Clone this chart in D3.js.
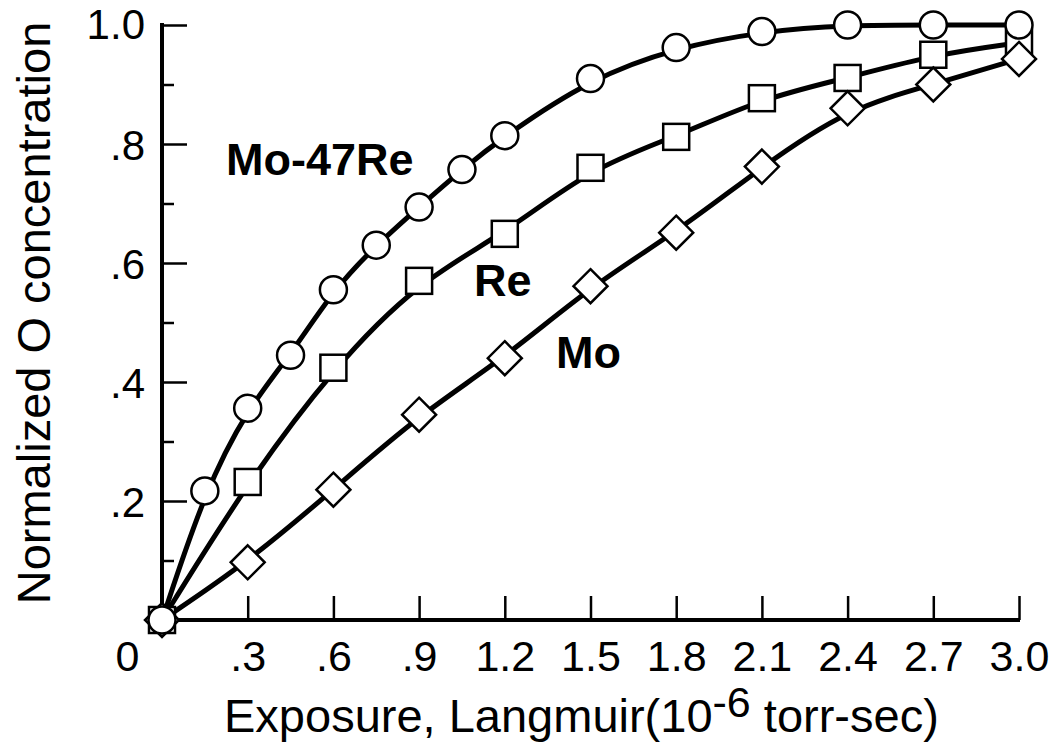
<!DOCTYPE html>
<html>
<head>
<meta charset="utf-8">
<script src="https://cdn.jsdelivr.net/npm/d3@7/dist/d3.min.js"></script>
<style>
  html, body { margin: 0; padding: 0; background: #fff; }
  svg { display: block; }
  text { font-family: "Liberation Sans", Arial, Helvetica, sans-serif; fill: #000; }
</style>
</head>
<body>
<svg id="chart" width="1055" height="746"></svg>
<script>
// ---- data ----
const xMoRe = [0, 0.15, 0.3, 0.45, 0.6, 0.75, 0.9, 1.05, 1.2, 1.5, 1.8, 2.1, 2.4, 2.7, 3.0];
const yMoRe = [0, 0.217, 0.356, 0.445, 0.555, 0.630, 0.694, 0.757, 0.814, 0.910, 0.962, 0.989, 1.0, 1.0, 1.0];
const xRe = [0, 0.3, 0.6, 0.9, 1.2, 1.5, 1.8, 2.1, 2.4, 2.7, 3.0];
const yRe = [0, 0.232, 0.424, 0.570, 0.649, 0.760, 0.812, 0.877, 0.911, 0.950, 0.970];
const xMo = [0, 0.3, 0.6, 0.9, 1.2, 1.5, 1.8, 2.1, 2.4, 2.7, 3.0];
const yMo = [0, 0.097, 0.219, 0.345, 0.440, 0.561, 0.651, 0.762, 0.860, 0.900, 0.943];
const xTicks = [0, 0.3, 0.6, 0.9, 1.2, 1.5, 1.8, 2.1, 2.4, 2.7, 3.0];
const xTickLabels = ["0", ".3", ".6", ".9", "1.2", "1.5", "1.8", "2.1", "2.4", "2.7", "3.0"];
const yMajor = [0.2, 0.4, 0.6, 0.8, 1.0];
const yMajorLabels = [".2", ".4", ".6", ".8", "1.0"];
const yMinor = [0.1, 0.3, 0.5, 0.7, 0.9];
const seriesNames = ["Mo-47Re", "Re", "Mo"];

// ---- layout ----
const svg = d3.select("#chart");
svg.append("rect").attr("width", 1055).attr("height", 746).attr("fill", "#fff");
const x = d3.scaleLinear().domain([0, 3]).range([162, 1019]);
const y = d3.scaleLinear().domain([0, 1]).range([620, 25]);

// axes lines
svg.append("line").attr("x1", x(0)).attr("x2", x(0)).attr("y1", y(0) + 2).attr("y2", y(1) - 2)
  .attr("stroke", "#000").attr("stroke-width", 4);
svg.append("line").attr("x1", x(0) - 2).attr("x2", x(3) + 1).attr("y1", y(0)).attr("y2", y(0))
  .attr("stroke", "#000").attr("stroke-width", 4);

// x ticks (pointing up)
const xAxis = d3.axisBottom(x).tickValues(xTicks).tickSizeInner(-24).tickSizeOuter(0)
  .tickFormat((d, i) => xTickLabels[i]);
const gx = svg.append("g").attr("transform", `translate(0,${y(0)})`).call(xAxis);
gx.select(".domain").remove();
gx.selectAll(".tick line").attr("stroke", "#000").attr("stroke-width", 2.5)
  .filter(d => d === 0).remove();
gx.selectAll(".tick text").attr("font-size", 43).attr("y", 51).attr("dy", 0)
  .attr("font-family", "Liberation Sans, Arial, sans-serif");
gx.selectAll(".tick").filter(d => d === 0).select("text").attr("x", -35);

// y ticks (pointing right)
const yAxis = d3.axisLeft(y).tickValues(yMajor).tickSizeInner(-25).tickSizeOuter(0)
  .tickFormat((d, i) => yMajorLabels[i]);
const gy = svg.append("g").attr("transform", `translate(${x(0)},0)`).call(yAxis);
gy.select(".domain").remove();
gy.selectAll(".tick line").attr("stroke", "#000").attr("stroke-width", 2.5);
gy.selectAll(".tick text").attr("font-size", 42).attr("x", -17).attr("dy", "0.36em")
  .attr("font-family", "Liberation Sans, Arial, sans-serif");
gy.selectAll(".tick").filter(d => d === 1).select("text").attr("dy", 13);

const yAxisMinor = d3.axisLeft(y).tickValues(yMinor).tickSizeInner(-12).tickSizeOuter(0).tickFormat("");
const gym = svg.append("g").attr("transform", `translate(${x(0)},0)`).call(yAxisMinor);
gym.select(".domain").remove();
gym.selectAll(".tick line").attr("stroke", "#000").attr("stroke-width", 2.5);

// curves (smooth fitted curves through the measured points)
const line = d3.line().x(d => x(d[0])).y(d => y(d[1])).curve(d3.curveBasis);
const dMoRe = xMoRe.map((v, i) => [v, yMoRe[i]]);
const dRe = xRe.map((v, i) => [v, yRe[i]]);
const dMo = xMo.map((v, i) => [v, yMo[i]]);
[dMoRe, dRe, dMo].forEach(d => {
  svg.append("path").attr("d", line(d)).attr("fill", "none").attr("stroke", "#000")
    .attr("stroke-width", 5).attr("stroke-linejoin", "round");
});

// markers
const sq = 26, dg = 17, rc = 13.5, sw = 2.5;
svg.append("g").selectAll("rect").data(dRe).join("rect")
  .attr("x", d => x(d[0]) - sq / 2).attr("y", d => y(d[1]) - sq / 2)
  .attr("width", sq).attr("height", sq)
  .attr("fill", "#fff").attr("stroke", "#000").attr("stroke-width", sw);
svg.append("g").selectAll("path").data(dMo).join("path")
  .attr("d", d => {
    const cx = x(d[0]), cy = y(d[1]);
    return `M${cx},${cy - dg}L${cx + dg},${cy}L${cx},${cy + dg}L${cx - dg},${cy}Z`;
  })
  .attr("fill", "#fff").attr("stroke", "#000").attr("stroke-width", sw);
svg.append("g").selectAll("circle").data(dMoRe).join("circle")
  .attr("cx", d => x(d[0])).attr("cy", d => y(d[1])).attr("r", rc)
  .attr("fill", "#fff").attr("stroke", "#000").attr("stroke-width", sw);

// series labels
const labelPos = [[226, 175], [474, 296], [556, 368]];
seriesNames.forEach((n, i) => {
  svg.append("text").attr("x", labelPos[i][0]).attr("y", labelPos[i][1])
    .attr("font-size", 45).attr("font-weight", "bold").text(n);
});

// axis titles
const xt = svg.append("text").attr("x", 224).attr("y", 732).attr("font-size", 47);
xt.append("tspan").text("Exposure, Langmuir(10");
xt.append("tspan").attr("dy", -15).attr("font-size", 43).text("-6");
xt.append("tspan").attr("dy", 15).text(" torr-sec)");

svg.append("text").attr("transform", "translate(50,313) rotate(-90)")
  .attr("text-anchor", "middle").attr("font-size", 47).text("Normalized O concentration");
</script>
</body>
</html>
